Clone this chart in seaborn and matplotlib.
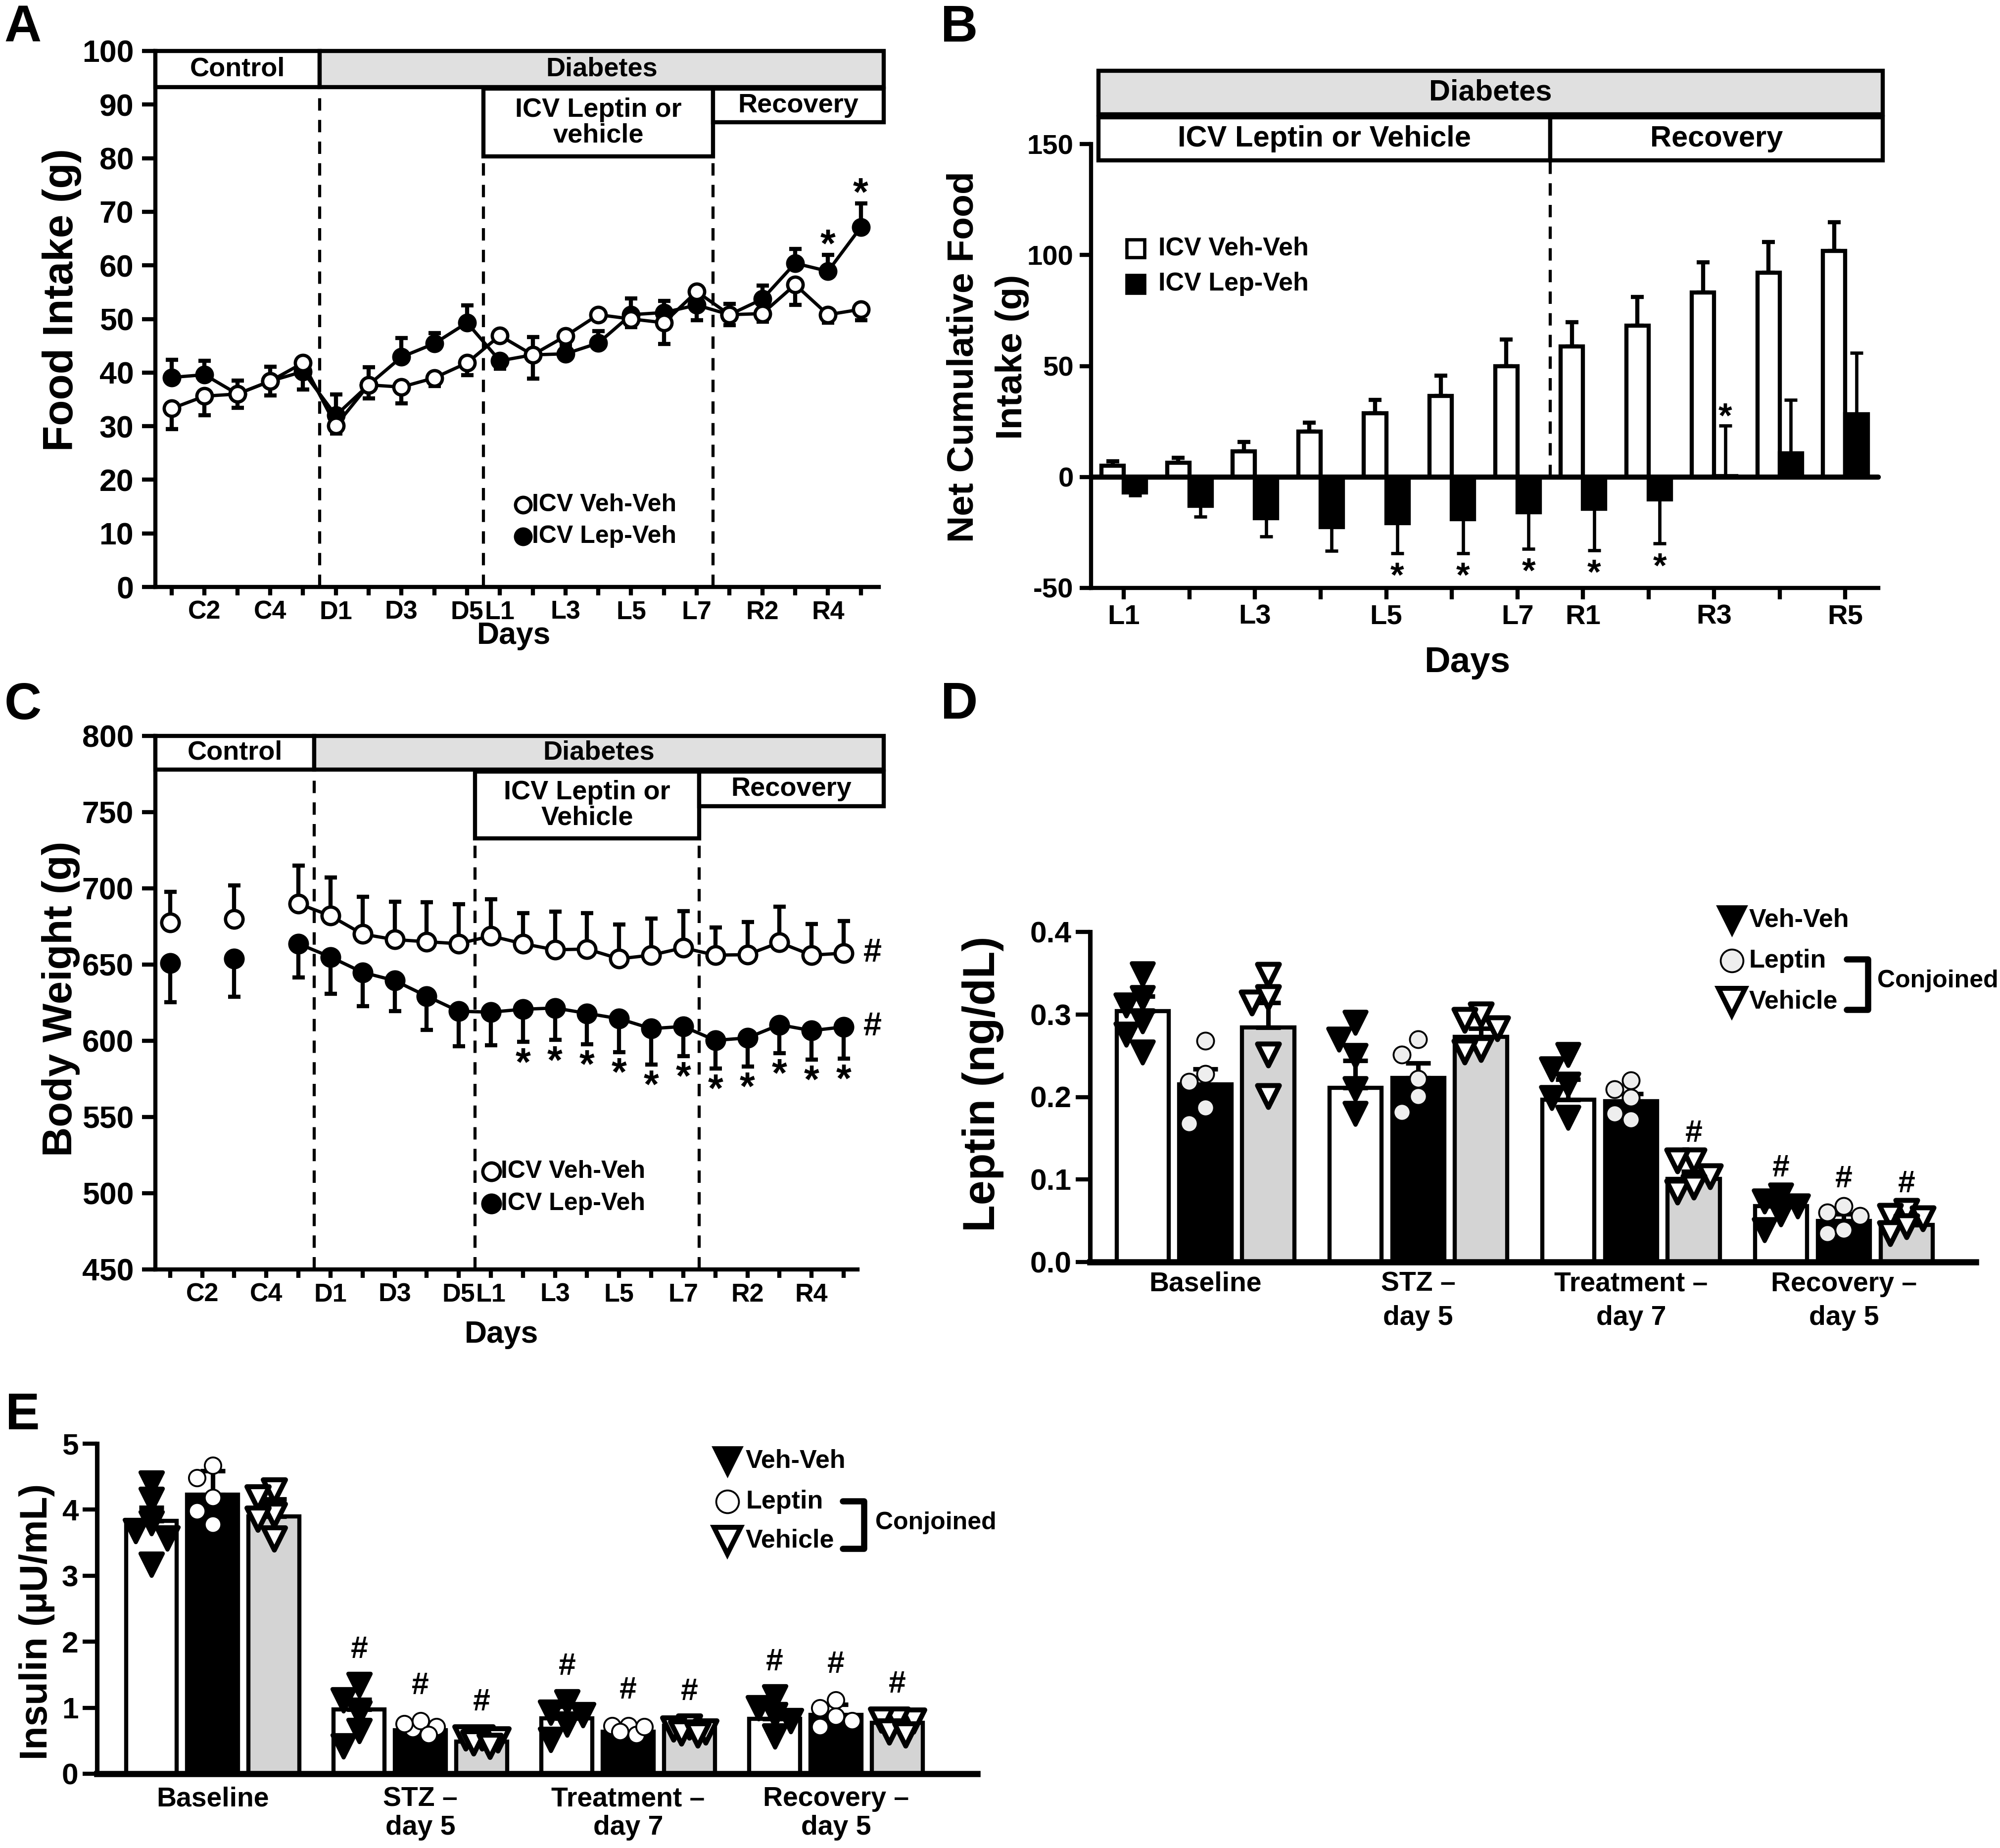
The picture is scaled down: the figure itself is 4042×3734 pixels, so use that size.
import numpy as np
import pandas as pd
import matplotlib
matplotlib.use('Agg')
import matplotlib.pyplot as plt
from matplotlib.patches import Rectangle
import seaborn as sns

# ---------------- data ----------------
days = ['C1', 'C2', 'C3', 'C4', 'C5', 'D1', 'D2', 'D3', 'D4', 'D5',
        'L1', 'L2', 'L3', 'L4', 'L5', 'L6', 'L7', 'R1', 'R2', 'R3', 'R4', 'R5']
day_ticklabels = ['C2', 'C4', 'D1', 'D3', 'D5', 'L1', 'L3', 'L5', 'L7', 'R2', 'R4']

# A: daily food intake (g), mean and SEM
food_veh = [33.3, 35.6, 36.0, 38.4, 41.8, 30.1, 37.7, 37.3, 39.0, 41.8, 46.9,
            43.3, 46.8, 50.8, 50.0, 49.3, 55.1, 50.8, 51.0, 56.4, 50.8, 51.8]
food_veh_sem = [3.8, 3.6, 2.6, 2.7, 1.0, 1.5, 2.5, 3.0, 1.5, 2.3, 1.0,
                4.4, 1.5, 1.0, 1.5, 4.0, 1.0, 2.0, 1.5, 3.8, 1.5, 2.0]
food_lep = [39.1, 39.6, 36.0, 38.4, 40.2, 32.0, 37.7, 42.9, 45.4, 49.3, 42.2,
            43.3, 43.5, 45.5, 50.8, 51.2, 52.6, 50.8, 53.7, 60.4, 58.9, 67.1]
food_lep_sem = [3.3, 2.6, 2.5, 2.7, 3.4, 3.9, 3.3, 3.5, 2.0, 3.2, 1.5,
                3.3, 1.5, 2.2, 3.0, 2.2, 2.8, 2.0, 2.5, 2.7, 3.1, 4.5]
food_lep_sem_below = ['C5', 'L1', 'L7']
food_star_days = ['R4', 'R5']

# B: net cumulative food intake (g)
cum_days = ['L1', 'L2', 'L3', 'L4', 'L5', 'L6', 'L7', 'R1', 'R2', 'R3', 'R4', 'R5']
cum_ticklabels = ['L1', 'L3', 'L5', 'L7', 'R1', 'R3', 'R5']
cum_veh = [5.0, 6.5, 11.5, 20.4, 28.7, 36.5, 50.0, 58.9, 68.1, 83.0, 92.0, 101.9]
cum_veh_sem = [2.0, 2.2, 4.2, 4.0, 6.1, 9.2, 11.9, 10.9, 13.0, 13.7, 13.9, 12.9]
cum_lep = [-6.9, -13.0, -18.5, -22.6, -20.9, -19.1, -15.9, -14.4, -10.2, 0.4, 10.6, 28.3]
cum_lep_sem = [1.4, 5.0, 8.4, 10.7, 13.4, 15.2, 16.5, 18.6, 19.8, 22.7, 24.2, 27.6]
cum_star_days = ['L5', 'L6', 'L7', 'R1', 'R2', 'R3']

# C: body weight (g)
nan = np.nan
bw_veh = [677.7, nan, 679.8, nan, 690.0, 682.0, 670.0, 666.4, 665.0, 663.7, 668.8,
          663.7, 659.7, 660.2, 653.8, 656.2, 661.0, 656.2, 656.5, 664.5, 656.2, 657.5]
bw_veh_sem = [20, nan, 22, nan, 25, 25, 24.6, 24.7, 25.9, 26, 24,
              20, 25, 23.7, 22.5, 24, 24, 18.3, 21.5, 23.4, 20.4, 21]
bw_lep = [651.0, nan, 653.8, nan, 663.7, 655.0, 644.9, 639.5, 629.3, 619.4, 618.8,
          620.7, 621.5, 618.0, 614.5, 608.0, 609.4, 600.3, 601.9, 610.5, 606.7, 609.1]
bw_lep_sem = [25.7, nan, 25, nan, 22.3, 24, 22.3, 20, 22, 22.9, 21.8,
              21.5, 21, 20.2, 22, 23.6, 19.6, 18.6, 18.8, 18.5, 19.1, 20.9]
bw_star_days = ['L2', 'L3', 'L4', 'L5', 'L6', 'L7', 'R1', 'R2', 'R3', 'R4', 'R5']

# D / E: plasma leptin and insulin
phases = ['Baseline', 'STZ –\nday 5', 'Treatment –\nday 7', 'Recovery –\nday 5']
groups = ['Veh-Veh', 'Leptin', 'Vehicle']

leptin_vehveh = [0.304, 0.211, 0.197, 0.068]
leptin_vehveh_sem = [0.018, 0.033, 0.024, 0.008]
leptin_vehveh_pts = [[0.349, 0.320, 0.311, 0.292, 0.276, 0.254], [0.290, 0.270, 0.250, 0.210, 0.180],
                     [0.251, 0.234, 0.215, 0.199, 0.175], [0.081, 0.074, 0.068, 0.058, 0.039]]
leptin_leptin = [0.215, 0.223, 0.195, 0.050]
leptin_leptin_sem = [0.019, 0.018, 0.009, 0.008]
leptin_leptin_pts = [[0.268, 0.218, 0.228, 0.187, 0.168], [0.270, 0.251, 0.222, 0.201, 0.182],
                     [0.220, 0.209, 0.199, 0.173, 0.180], [0.068, 0.056, 0.060, 0.035, 0.039]]
leptin_vehicle = [0.284, 0.273, 0.101, 0.045]
leptin_vehicle_sem = [0.030, 0.010, 0.009, 0.009]
leptin_vehicle_pts = [[0.348, 0.314, 0.321, 0.251, 0.201], [0.300, 0.293, 0.283, 0.258, 0.255],
                      [0.123, 0.123, 0.104, 0.085, 0.091], [0.062, 0.056, 0.053, 0.035, 0.043]]
leptin_hash = [(2, 'Vehicle'), (3, 'Veh-Veh'), (3, 'Leptin'), (3, 'Vehicle')]

insulin_vehveh = [3.83, 0.971, 0.843, 0.830]
insulin_vehveh_sem = [0.20, 0.155, 0.18, 0.227]
insulin_vehveh_pts = [[4.40, 4.15, 3.80, 3.68, 3.57, 3.17], [1.35, 1.12, 0.92, 0.65, 0.42],
                      [1.09, 0.93, 0.89, 0.75, 0.52], [1.16, 1.00, 0.89, 0.80, 0.57]]
insulin_leptin = [4.225, 0.661, 0.638, 0.889]
insulin_leptin_sem = [0.365, 0.10, 0.068, 0.159]
insulin_leptin_pts = [[4.67, 4.48, 4.18, 3.98, 3.78], [0.68, 0.76, 0.80, 0.71, 0.59],
                      [0.73, 0.73, 0.59, 0.64, 0.71], [1.12, 1.00, 0.87, 0.71, 0.80]]
insulin_vehicle = [3.897, 0.488, 0.729, 0.775]
insulin_vehicle_sem = [0.26, 0.082, 0.071, 0.091]
insulin_vehicle_pts = [[4.29, 4.18, 3.92, 3.86, 3.56], [0.55, 0.55, 0.52, 0.47, 0.42],
                       [0.71, 0.68, 0.64, 0.62, 0.59], [0.80, 0.82, 0.82, 0.64, 0.59]]
insulin_hash = [(p, g) for p in (1, 2, 3) for g in groups]

# ---------------- style ----------------
sns.set_theme(style='ticks', rc={
    'axes.edgecolor': 'black', 'text.color': 'black', 'axes.labelcolor': 'black',
    'xtick.color': 'black', 'ytick.color': 'black', 'axes.linewidth': 2.0,
    'xtick.major.width': 2.0, 'ytick.major.width': 2.0,
    'xtick.major.size': 4, 'ytick.major.size': 6.5, 'axes.unicode_minus': False})
FONT = ['Liberation Sans', 'DejaVu Sans']
plt.rcParams['font.family'] = FONT
plt.rcParams['font.weight'] = 'bold'
plt.rcParams['axes.labelweight'] = 'bold'

W, H = 4042, 3734
fig = plt.figure(figsize=(W / 300, H / 300), dpi=300)


def px_axes(left, right, top, bottom):
    return fig.add_axes([left / W, 1 - bottom / H, (right - left) / W, (bottom - top) / H])


def header_box(ax, x0, x1, y0, y1, text, fill='white', fs=13):
    ax.add_patch(Rectangle((x0, y0), x1 - x0, y1 - y0, facecolor=fill, edgecolor='black',
                           lw=2.0, clip_on=False, zorder=6))
    ax.text((x0 + x1) / 2, (y0 + y1) / 2, text, ha='center', va='center', fontsize=fs,
            fontweight='bold', linespacing=1.05, zorder=7, clip_on=False)


def vdash(ax, x, y0, y1):
    ax.plot([x, x], [y0, y1], color='black', lw=1.5, dashes=(4, 3), zorder=1, clip_on=False)


def draw_series(ax, xs, ys, mfc, ms):
    ys = np.asarray(ys, float)
    ok = ~np.isnan(ys)
    seg = np.cumsum(~ok)
    df = pd.DataFrame({'x': xs[ok], 'y': ys[ok], 'seg': seg[ok]})
    sns.lineplot(data=df, x='x', y='y', units='seg', estimator=None, color='black',
                 marker='o', markersize=ms, markerfacecolor=mfc, markeredgecolor='black',
                 markeredgewidth=1.6, linewidth=1.6, legend=False, ax=ax, zorder=4)


def point_legend(ax, x, xt, ys, labels, markers, fcs, sizes, mews, fs):
    for yy, lab, m, fc, ms, mew in zip(ys, labels, markers, fcs, sizes, mews):
        ax.plot([x], [yy], marker=m, ms=ms, mfc=fc, mec='black', mew=mew, ls='none',
                transform=ax.transAxes, clip_on=False, zorder=8)
        ax.text(xt, yy, lab, transform=ax.transAxes, ha='left', va='center',
                fontsize=fs, fontweight='bold')


def spread_offsets(vals, step, dy):
    # simple deterministic scatter-dot layout: side-step points that would overlap
    vals = np.asarray(vals, float)
    cands = [0.0, -step, step, -step / 2, step / 2]
    placed, offs = [], np.zeros(len(vals))
    for i in np.argsort(-vals):
        best, best_score = 0.0, -1.0
        for c in cands:
            score = min([np.hypot((c - px) / step, (vals[i] - py) / dy) for px, py in placed],
                        default=np.inf)
            if score >= 1:
                best = c
                break
            if score > best_score:
                best, best_score = c, score
        offs[i] = best
        placed.append((best, vals[i]))
    return offs


# ---------------- A: food intake ----------------
axA = px_axes(314, 1786, 103, 1186)
xd = np.arange(len(days))
axA.errorbar(xd, food_veh, yerr=[food_veh_sem, np.zeros(len(days))], fmt='none', ecolor='black',
             elinewidth=2.0, capsize=3, capthick=2.0, zorder=2)
lep_below = np.array([d in food_lep_sem_below for d in days])
lep_sem = np.array(food_lep_sem)
axA.errorbar(xd, food_lep, yerr=[np.where(lep_below, lep_sem, 0), np.where(lep_below, 0, lep_sem)],
             fmt='none', ecolor='black', elinewidth=2.0, capsize=3, capthick=2.0, zorder=2)
draw_series(axA, xd, food_lep, 'black', 7.5)
draw_series(axA, xd, food_veh, 'white', 7.5)
for d in food_star_days:
    i = days.index(d)
    axA.annotate('*', (i, food_lep[i] + food_lep_sem[i]), xytext=(0, 4), textcoords='offset points',
                 ha='center', va='center', fontsize=19, fontweight='bold')
axA.set_xlim(-0.5, 21.7)
axA.set_ylim(0, 100)
axA.set_yticks(np.arange(0, 101, 10))
axA.set_xticks(xd)
axA.set_xticklabels([d if d in day_ticklabels else '' for d in days])
axA.spines['bottom'].set_bounds(-0.5, 21.55)
for x0, x1, y0, y1, t, f in [(-0.5, 4.5, 93.3, 100, 'Control', 'white'),
                             (4.5, 21.7, 93.3, 100, 'Diabetes', '#e0e0e0'),
                             (9.5, 16.5, 80.3, 93.0, 'ICV Leptin or\nvehicle', 'white'),
                             (16.5, 21.7, 86.7, 93.0, 'Recovery', 'white')]:
    header_box(axA, x0, x1, y0, y1, t, f)
vdash(axA, 4.5, 0, 93.3)
vdash(axA, 9.5, 0, 80.3)
vdash(axA, 16.5, 0, 80.3)
point_legend(axA, 0.505, 0.517, [0.153, 0.094], ['ICV Veh-Veh', 'ICV Lep-Veh'], ['o', 'o'],
             ['white', 'black'], [7.5, 7.5], [1.6, 1.6], 12)
axA.set_xlabel('Days', fontsize=15)
axA.xaxis.set_label_coords(0.4925, -0.064)
axA.set_ylabel('Food Intake (g)', fontsize=20.5)
axA.yaxis.set_label_coords(-0.101, 0.5355)

# ---------------- B: net cumulative intake ----------------
axB = px_axes(2205, 3805, 291, 1188)
dfB = pd.DataFrame({'day': cum_days * 2, 'value': cum_veh + cum_lep,
                    'group': ['ICV Veh-Veh'] * len(cum_days) + ['ICV Lep-Veh'] * len(cum_days)})
sns.barplot(data=dfB, x='day', y='value', hue='group', order=cum_days,
            hue_order=['ICV Veh-Veh', 'ICV Lep-Veh'],
            palette={'ICV Veh-Veh': 'white', 'ICV Lep-Veh': 'black'}, saturation=1,
            edgecolor='black', linewidth=2.0, width=0.68, errorbar=None, legend=False,
            ax=axB, zorder=3)
xb = np.arange(len(cum_days))
axB.errorbar(xb - 0.17, cum_veh, yerr=[np.zeros(len(xb)), cum_veh_sem], fmt='none',
             ecolor='black', elinewidth=2.0, capsize=3.2, capthick=2.0, zorder=2)
cl = np.array(cum_lep)
cls = np.array(cum_lep_sem)
axB.errorbar(xb + 0.17, cum_lep, yerr=[np.where(cl < 0, cls, 0), np.where(cl < 0, 0, cls)],
             fmt='none', ecolor='black', elinewidth=1.6, capsize=3.2, capthick=1.6, zorder=2)
axB.plot([-0.5, 11.5], [0, 0], color='black', lw=2.5, zorder=4)
for d in cum_star_days:
    i = cum_days.index(d)
    if cum_lep[i] < 0:
        axB.annotate('*', (i + 0.17, cum_lep[i] - cum_lep_sem[i]), xytext=(0, -12),
                     textcoords='offset points', ha='center', va='center', fontsize=17)
    else:
        axB.annotate('*', (i + 0.17, cum_lep[i] + cum_lep_sem[i]), xytext=(0, 3.5),
                     textcoords='offset points', ha='center', va='center', fontsize=17)
axB.set_xlim(-0.5, 11.57)
axB.set_ylim(-50, 150)
axB.set_yticks([-50, 0, 50, 100, 150])
axB.set_yticklabels(['-50', '0', '50', '100', '150'])
axB.set_xticks(xb)
axB.set_xticklabels([d if d in cum_ticklabels else '' for d in cum_days])
axB.spines['bottom'].set_bounds(-0.5, 11.5)
header_box(axB, -0.39, 11.57, 163.3, 183, 'Diabetes', '#e0e0e0', 14.3)
header_box(axB, -0.39, 6.5, 142.6, 162, 'ICV Leptin or Vehicle', 'white', 14.3)
header_box(axB, 6.5, 11.57, 142.6, 162, 'Recovery', 'white', 14.3)
vdash(axB, 6.5, 0, 142.6)
point_legend(axB, 0.056, 0.085, [0.765, 0.685], ['ICV Veh-Veh', 'ICV Lep-Veh'], ['s', 's'],
             ['white', 'black'], [8.5, 8.5], [1.6, 1.6], 12.5)
axB.set_xlabel('Days', fontsize=17.5)
axB.xaxis.set_label_coords(0.475, -0.13)
axB.set_ylabel('Net Cumulative Food\nIntake (g)', fontsize=18, linespacing=1.55)
axB.yaxis.set_label_coords(-0.078, 0.52)

# ---------------- C: body weight ----------------
axC = px_axes(314, 1786, 1487, 2565)
axC.errorbar(xd, bw_veh, yerr=[np.zeros(len(days)), bw_veh_sem], fmt='none', ecolor='black',
             elinewidth=2.0, capsize=3, capthick=2.0, zorder=2)
axC.errorbar(xd, bw_lep, yerr=[bw_lep_sem, np.zeros(len(days))], fmt='none', ecolor='black',
             elinewidth=2.0, capsize=3, capthick=2.0, zorder=2)
draw_series(axC, xd, bw_veh, 'white', 8.5)
draw_series(axC, xd, bw_lep, 'black', 8.5)
for d in bw_star_days:
    i = days.index(d)
    axC.annotate('*', (i, bw_lep[i] - bw_lep_sem[i]), xytext=(0, -11), textcoords='offset points',
                 ha='center', va='center', fontsize=19)
for series in (bw_veh, bw_lep):
    axC.annotate('#', (len(days) - 1, series[-1]), xytext=(14, 0), textcoords='offset points',
                 ha='center', va='center', fontsize=16)
axC.set_xlim(-0.46, 22.25)
axC.set_ylim(450, 800)
axC.set_yticks(np.arange(450, 801, 50))
axC.set_xticks(xd)
axC.set_xticklabels([d if d in day_ticklabels else '' for d in days])
axC.spines['bottom'].set_bounds(-0.46, 21.44)
for x0, x1, y0, y1, t, f in [(-0.46, 4.5, 778, 800, 'Control', 'white'),
                             (4.5, 22.25, 778, 800, 'Diabetes', '#e0e0e0'),
                             (9.5, 16.5, 732.8, 776.6, 'ICV Leptin or\nVehicle', 'white'),
                             (16.5, 22.25, 753.8, 776.6, 'Recovery', 'white')]:
    header_box(axC, x0, x1, y0, y1, t, f)
vdash(axC, 4.5, 450, 778)
vdash(axC, 9.5, 450, 732.8)
vdash(axC, 16.5, 450, 732.8)
point_legend(axC, 0.461, 0.474, [0.184, 0.123], ['ICV Veh-Veh', 'ICV Lep-Veh'], ['o', 'o'],
             ['white', 'black'], [8.5, 8.5], [1.6, 1.6], 12)
axC.set_xlabel('Days', fontsize=15)
axC.xaxis.set_label_coords(0.475, -0.095)
axC.set_ylabel('Body Weight (g)', fontsize=20)
axC.yaxis.set_label_coords(-0.103, 0.507)

for ax in (axA, axB, axC):
    ax.tick_params(axis='y', labelsize=15, direction='out', pad=4)
    ax.tick_params(axis='x', labelsize=12.5, direction='out', pad=2.4)
axB.tick_params(axis='both', length=5.5)
axB.tick_params(axis='y', labelsize=13.5, pad=3)
axB.tick_params(axis='x', labelsize=13.5)


# ---------------- D / E: bars with individual animals ----------------
def bar_panel(ax, means, sems, pts, hashes, circle_fc, tri_ms, circ_ms, dy_tri, hash_off, lsp):
    bar_pal = {'Veh-Veh': 'white', 'Leptin': 'black', 'Vehicle': '#d4d4d4'}
    pt_style = {'Veh-Veh': ('v', 'black', tri_ms, 2.0), 'Leptin': ('o', circle_fc, circ_ms, 0.9),
                'Vehicle': ('v', 'white', tri_ms, 2.4)}
    slot = 0.295
    offs = {g: (k - 1) * slot for k, g in enumerate(groups)}
    dfm = pd.DataFrame([(p, g, m) for g, ms in zip(groups, means) for p, m in zip(phases, ms)],
                       columns=['phase', 'group', 'mean'])
    sns.barplot(data=dfm, x='phase', y='mean', hue='group', order=phases, hue_order=groups,
                palette=bar_pal, saturation=1, edgecolor='black', linewidth=2.0, width=3 * slot,
                gap=0.17, errorbar=None, legend=False, ax=ax, zorder=2)
    for g, ms, ss in zip(groups, means, sems):
        xs = np.arange(len(phases)) + offs[g]
        ax.errorbar(xs, ms, yerr=[np.zeros(len(ms)), ss], fmt='none', ecolor='black',
                    elinewidth=2.2, capsize=6, capthick=2.2, zorder=3)
    rows = []
    for g, pl in zip(groups, pts):
        for i, vals in enumerate(pl):
            for v, o in zip(vals, spread_offsets(vals, 0.077, dy_tri)):
                rows.append((i + offs[g] + o, g, v))
    dfp = pd.DataFrame(rows, columns=['xpos', 'group', 'value'])
    for g in groups:
        m, fc, ms, mew = pt_style[g]
        sns.scatterplot(data=dfp[dfp.group == g], x='xpos', y='value', marker=m, s=ms ** 2,
                        color=fc, edgecolor='black', linewidth=mew, legend=False, ax=ax, zorder=4)
    for p, g in hashes:
        top = max(pts[groups.index(g)][p])
        ax.annotate('#', (p + offs[g], top), xytext=(0, hash_off), textcoords='offset points',
                    ha='center', va='center', fontsize=15)
    ax.set_xticks(np.arange(len(phases)))
    ax.set_xticklabels(phases, fontsize=13.3, linespacing=lsp)
    ax.set_xlabel('')
    ax.tick_params(axis='x', length=0)
    ax.tick_params(axis='y', labelsize=14.5, length=7, pad=2)
    ax.spines['bottom'].set_linewidth(3.0)
    ax.spines['left'].set_linewidth(2.2)
    return [pt_style[g] for g in groups]


axD = px_axes(2203, 3993, 1883, 2550)
lm = bar_panel(axD, [leptin_vehveh, leptin_leptin, leptin_vehicle],
               [leptin_vehveh_sem, leptin_leptin_sem, leptin_vehicle_sem],
               [leptin_vehveh_pts, leptin_leptin_pts, leptin_vehicle_pts],
               leptin_hash, '#eeeeee', 10.6, 8.2, 0.02, 13, 1.4)
axD.set_xlim(-0.542, 3.62)
axD.set_ylim(0, 0.4)
axD.set_yticks([0.0, 0.1, 0.2, 0.3, 0.4])
axD.set_yticklabels(['0.0', '0.1', '0.2', '0.3', '0.4'])
axD.tick_params(axis='x', pad=4.5)
point_legend(axD, 0.7246, 0.744, [1.036, 0.9125, 0.789], groups, [s[0] for s in lm],
             [s[1] for s in lm], [13, 11, 13], [1.6, 0.9, 2.4], 12.5)
axD.plot([0.854, 0.878, 0.878, 0.854], [0.918, 0.918, 0.764, 0.764], color='black', lw=3,
         transform=axD.transAxes, clip_on=False)
axD.text(0.889, 0.851, 'Conjoined', transform=axD.transAxes, ha='left', va='center', fontsize=12)
axD.set_ylabel('Leptin (ng/dL)', fontsize=21.5)
axD.yaxis.set_label_coords(-0.097, 0.54)

axE = px_axes(196, 1975, 2917, 3584)
lm = bar_panel(axE, [insulin_vehveh, insulin_leptin, insulin_vehicle],
               [insulin_vehveh_sem, insulin_leptin_sem, insulin_vehicle_sem],
               [insulin_vehveh_pts, insulin_leptin_pts, insulin_vehicle_pts],
               insulin_hash, 'white', 10.8, 8.0, 0.25, 17, 1.15)
axE.set_xlim(-0.557, 3.68)
axE.set_ylim(0, 5)
axE.set_yticks(np.arange(0, 6, 1))
axE.tick_params(axis='x', pad=6)
point_legend(axE, 0.716, 0.737, [0.948, 0.824, 0.706], groups, [s[0] for s in lm],
             [s[1] for s in lm], [13, 11, 13], [1.6, 0.9, 2.4], 12.5)
axE.plot([0.847, 0.871, 0.871, 0.847], [0.826, 0.826, 0.682, 0.682], color='black', lw=3,
         transform=axE.transAxes, clip_on=False)
axE.text(0.884, 0.760, 'Conjoined', transform=axE.transAxes, ha='left', va='center', fontsize=12)
axE.set_ylabel('Insulin (µU/mL)', fontsize=18.5)
axE.yaxis.set_label_coords(-0.048, 0.461)

for ax in (axA, axB, axC, axD, axE):
    sns.despine(ax=ax)

for lab, (x, y) in zip('ABCDE', [(46, 57), (1939, 57), (46, 1426), (1939, 1426), (46, 2862)]):
    fig.text(x / W, 1 - y / H, lab, ha='center', va='center', fontsize=25, fontweight='bold')

fig.savefig('out.png', dpi=300, facecolor='white')
